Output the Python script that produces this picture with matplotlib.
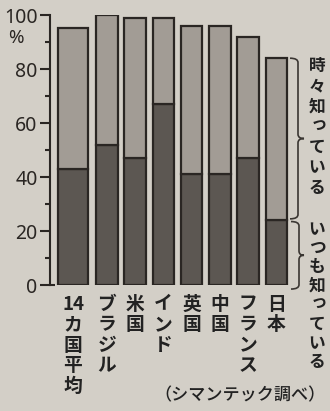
import matplotlib
matplotlib.use("Agg")
import matplotlib.pyplot as plt
from matplotlib import font_manager
from matplotlib.path import Path
from matplotlib.patches import PathPatch
import matplotlib.transforms as mtransforms

# ---------------- data ----------------
categories = [["14", "カ", "国", "平", "均"], "ブラジル", "米国", "インド", "英国", "中国", "フランス", "日本"]
always = [43, 52, 47, 67, 41, 41, 47, 24]        # いつも知っている
sometimes = [52, 48, 52, 32, 55, 55, 45, 60]     # 時々知っている
yticks = [0, 20, 40, 60, 80, 100]
ytick_labels = ["0", "20", "40", "60", "80", "100"]
label_sometimes = "時々知っている"
label_always = "いつも知っている"
source = "（シマンテック調べ）"

# ---------------- style ----------------
W, H = 330, 411
bg = "#d3cfc7"
light = "#a29c95"
dark = "#5c5752"
edge = "#2a2623"

names = {f.name for f in font_manager.fontManager.ttflist}
jp = "Noto Sans CJK JP"
num_fam = [f for f in ["Liberation Sans Narrow", "DejaVu Sans Condensed", "Noto Sans", "DejaVu Sans"] if f in names]
plt.rcParams["font.family"] = [jp, "DejaVu Sans"]

fig = plt.figure(figsize=(W / 100, H / 100), dpi=100)
fig.patch.set_facecolor(bg)

u = 28.25  # pixels per x unit
ax_left_px, ax_right_px = 50, 290
ax_top_px, ax_bot_px = 15, 285
ax = fig.add_axes([ax_left_px / W, 1 - ax_bot_px / H,
                   (ax_right_px - ax_left_px) / W, (ax_bot_px - ax_top_px) / H])
ax.set_facecolor("none")

n = len(always)
xpos = [0.0] + [1.2 + k for k in range(n - 1)]
widths = [1.06] + [0.76] * (n - 1)
x0 = (ax_left_px - 73) / u
ax.set_xlim(x0, x0 + (ax_right_px - ax_left_px) / u)
ax.set_ylim(0, 100)

ax.bar(xpos, always, width=widths, color=dark, edgecolor=edge, linewidth=1.6, zorder=3)
ax.bar(xpos, sometimes, bottom=always, width=widths, color=light, edgecolor=edge,
       linewidth=1.6, zorder=3)

for s in ["top", "right", "bottom"]:
    ax.spines[s].set_visible(False)
ax.spines["left"].set_color(edge)
ax.spines["left"].set_linewidth(1.5)
ax.set_xticks([])
ax.set_yticks(yticks)
ax.set_yticks(range(10, 100, 20), minor=True)
ax.tick_params(axis="y", which="major", length=7.5, width=1.5, color=edge, pad=1.5)
ax.tick_params(axis="y", which="minor", length=3.5, width=1.5, color=edge)
ax.set_yticklabels(ytick_labels, fontfamily=num_fam, fontstretch="condensed",
                   fontsize=14, color="#2a2623")
ax.text(-0.11, 91.5, "%", transform=ax.get_yaxis_transform(), ha="right", va="center",
        fontsize=13.5, color="#2a2623", fontfamily=num_fam, fontstretch="condensed")
# small hook at the base of the axis
ax.plot([0, 0.02], [0, 0], transform=ax.get_yaxis_transform(), color=edge, lw=1.5,
        clip_on=False, solid_capstyle="butt")

# x labels, written vertically
bt = mtransforms.blended_transform_factory(ax.transData, fig.transFigure)
pitch = 20.5
for x, cat in zip(xpos, categories):
    chars = cat if isinstance(cat, list) else list(cat)
    for j, ch in enumerate(chars):
        yc = 304 + j * pitch
        ax.text(x, 1 - yc / H, ch, transform=bt, ha="center", va="center",
                fontsize=13.5, fontweight="bold", color="#222", clip_on=False)

# braces
def brace(x_left, x_spine, x_tip, ytop, ybot, r=1.6):
    ym = (ytop + ybot) / 2
    verts = [(x_left, ytop), (x_spine, ytop), (x_spine, ytop - r),
             (x_spine, ym + r),
             (x_spine, ym), (x_tip, ym),
             (x_spine, ym), (x_spine, ym - r),
             (x_spine, ybot + r),
             (x_spine, ybot), (x_left, ybot)]
    codes = [Path.MOVETO, Path.CURVE3, Path.CURVE3, Path.LINETO,
             Path.CURVE3, Path.CURVE3, Path.CURVE3, Path.CURVE3,
             Path.LINETO, Path.CURVE3, Path.CURVE3]
    ax.add_patch(PathPatch(Path(verts, codes), fill=False, edgecolor="#3a3632",
                           linewidth=1.2, clip_on=False))

px = lambda p: x0 + (p - ax_left_px) / u
top_j = always[-1] + sometimes[-1]
brace(px(290), px(298), px(304), top_j, always[-1] + 0.5)
brace(px(291), px(299), px(304), always[-1] - 0.5, -1.5)

# right-side vertical labels
def vtext(s, xc, y0, p):
    for j, ch in enumerate(s):
        dx, dy = (2, -2) if ch in "っッ" else (0, 0)
        fig.text((xc + dx) / W, 1 - (y0 + j * p + dy) / H, ch, ha="center", va="center",
                 fontsize=12, fontweight="bold", color="#222")

vtext(label_sometimes, 317, 66, 20.3)
vtext(label_always, 317, 229, 19.0)

fig.text(326 / W, 1 - 395 / H, source, ha="right", va="center", fontsize=12.3,
         fontweight="medium", color="#222")

fig.savefig("out.png", dpi=100, facecolor=bg)
